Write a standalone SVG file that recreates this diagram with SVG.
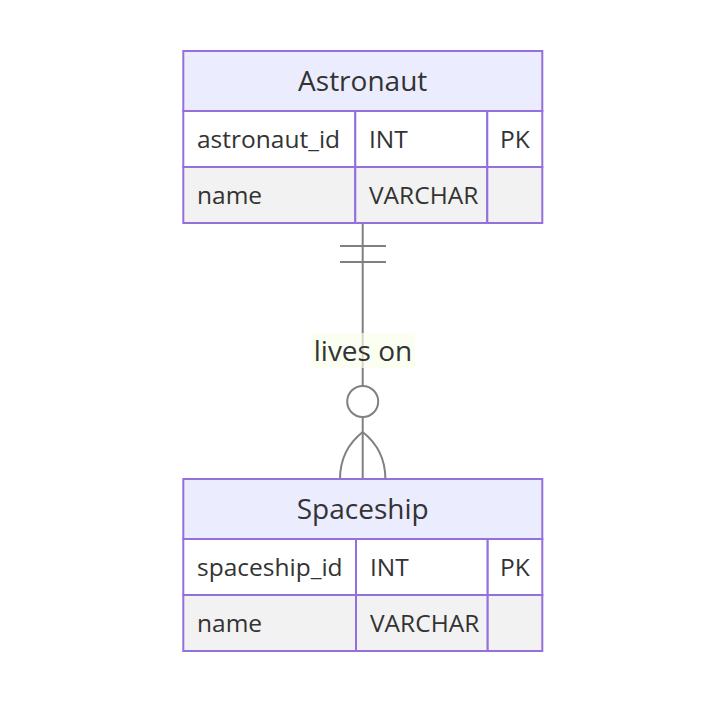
<svg xmlns="http://www.w3.org/2000/svg" width="726" height="702" viewBox="0 0 726 702">
<style>
text { font-family: "Open Sans", "Liberation Sans", sans-serif; fill: #333333; font-size: 24.5px; }
.hdr { fill: #ECECFF; stroke: #9370DB; stroke-width: 2; }
.odd { fill: #ffffff; stroke: #9370DB; stroke-width: 2; }
.even { fill: #f2f2f2; stroke: #9370DB; stroke-width: 2; }
.title { text-anchor: middle; font-size: 28px; }
.rel { fill: none; stroke: #808080; stroke-width: 2; }
.lblbox { fill: hsl(80, 100%, 96.27%); opacity: 0.7; }
.lbl { font-size: 28px; text-anchor: middle; }
</style>
<rect width="726" height="702" fill="#ffffff"/>
<g id="connectors">
  <line class="rel" x1="362.7" y1="223" x2="362.7" y2="479"/>
  <line class="rel" x1="340" y1="246" x2="386" y2="246"/>
  <line class="rel" x1="340" y1="262" x2="386" y2="262"/>
  <circle class="rel" cx="362.7" cy="401.5" r="15.5" style="fill:#ffffff"/>
  <path class="rel" d="M340,479 Q340,450 362.7,432 Q385.4,450 385.4,479"/>
  <rect class="lblbox" x="311" y="333" width="104" height="35"/>
  <text class="lbl" x="363" y="350" dominant-baseline="central">lives on</text>
</g>
<g id="Astronaut">
  <rect class="hdr" x="183.3" y="51" width="359" height="60"/>
  <text class="title" x="362.7" y="80" dominant-baseline="central">Astronaut</text>
  <rect class="odd" x="183.3" y="111" width="172" height="56"/>
  <rect class="odd" x="355.3" y="111" width="132" height="56"/>
  <rect class="odd" x="487.3" y="111" width="55" height="56"/>
  <rect class="even" x="183.3" y="167" width="172" height="56"/>
  <rect class="even" x="355.3" y="167" width="132" height="56"/>
  <rect class="even" x="487.3" y="167" width="55" height="56"/>
  <text x="197" y="138" dominant-baseline="central">astronaut_id</text>
  <text x="369" y="138" dominant-baseline="central">INT</text>
  <text x="500" y="138" dominant-baseline="central">PK</text>
  <text x="197" y="194" dominant-baseline="central">name</text>
  <text x="369" y="194" dominant-baseline="central">VARCHAR</text>
</g>
<g id="Spaceship">
  <rect class="hdr" x="183.3" y="479" width="359" height="60"/>
  <text class="title" x="362.7" y="508" dominant-baseline="central">Spaceship</text>
  <rect class="odd" x="183.3" y="539" width="172.7" height="56"/>
  <rect class="odd" x="356" y="539" width="131.7" height="56"/>
  <rect class="odd" x="487.7" y="539" width="54.6" height="56"/>
  <rect class="even" x="183.3" y="595" width="172.7" height="56"/>
  <rect class="even" x="356" y="595" width="131.7" height="56"/>
  <rect class="even" x="487.7" y="595" width="54.6" height="56"/>
  <text x="197" y="566" dominant-baseline="central">spaceship_id</text>
  <text x="370" y="566" dominant-baseline="central">INT</text>
  <text x="500" y="566" dominant-baseline="central">PK</text>
  <text x="197" y="622" dominant-baseline="central">name</text>
  <text x="370" y="622" dominant-baseline="central">VARCHAR</text>
</g>
</svg>
